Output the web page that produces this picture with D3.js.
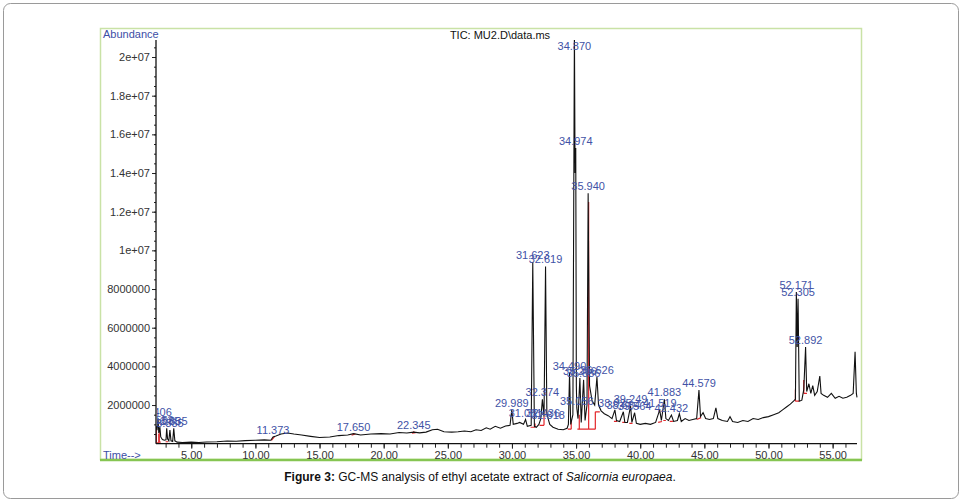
<!DOCTYPE html>
<html>
<head>
<meta charset="utf-8">
<script src="https://cdn.jsdelivr.net/npm/d3@7"></script>
<style>
  html, body { margin: 0; padding: 0; background: #fff; }
  svg { display: block; font-family: "Liberation Sans", Arial, sans-serif; }
</style>
</head>
<body>
<svg id="chart" width="962" height="502"></svg>
<script>
// ---- data (abundance in millions) ----
const traceTime = [
  2.25, 2.33, 2.406, 2.47, 2.553, 2.62, 2.75, 2.90, 3.03, 3.085, 3.15, 3.25, 3.335, 3.42, 3.55, 3.635, 3.72, 3.9,
  4.3, 5.0, 5.6, 6.2, 7.0, 7.8, 8.5, 9.2, 10.0, 10.7, 11.2, 11.373, 11.6, 12.0, 12.5, 13.0, 13.6, 14.3,
  15.0, 15.8, 16.5, 17.2, 17.65, 18.2, 19.0, 19.8, 20.5, 21.2, 21.8, 22.345, 22.8, 23.3, 23.8, 24.2,
  24.7, 25.3, 25.8, 26.3, 26.8, 27.2, 27.6, 28.0, 28.3, 28.7, 29.1, 29.5, 29.85, 29.989, 30.1, 30.4,
  30.6, 30.9, 31.061, 31.2, 31.5, 31.623, 31.75, 31.9, 32.1, 32.25, 32.374, 32.5, 32.619, 32.72, 32.818,
  32.95, 33.2, 33.6, 34.0, 34.3, 34.4, 34.49, 34.58, 34.75, 34.87, 34.92, 34.974, 35.02, 35.056, 35.15,
  35.296, 35.4, 35.586, 35.7, 35.85, 35.94, 36.05, 36.25, 36.45, 36.626, 36.75, 36.95, 37.2, 37.5, 37.8,
  38.025, 38.15, 38.4, 38.684, 38.8, 39.0, 39.249, 39.35, 39.564, 39.7, 40.0, 40.4, 40.8, 41.2, 41.519,
  41.65, 41.883, 42.0, 42.2, 42.432, 42.6, 42.9, 43.05, 43.2, 43.5, 43.8, 44.1, 44.4, 44.579, 44.7, 44.9,
  45.1, 45.4, 45.7, 45.9, 46.05, 46.4, 46.8, 47.0, 47.2, 47.6, 48.0, 48.4, 48.8, 49.2, 49.6, 50.0, 50.4,
  50.8, 51.1, 51.4, 51.7, 51.95, 52.1, 52.171, 52.24, 52.305, 52.4, 52.6, 52.75, 52.892, 52.98, 53.15,
  53.3, 53.45, 53.6, 53.8, 54.0, 54.1, 54.3, 54.6, 54.9, 55.2, 55.5, 55.8, 56.1, 56.4, 56.6, 56.75, 56.85, 56.9
];
const traceAbund = [
  0.9, 0.7, 1.3, 0.55, 0.86, 0.35, 0.22, 0.18, 0.2, 0.8, 0.25, 0.15, 0.7, 0.15, 0.12, 0.8, 0.15, 0.08,
  0.06, 0.08, 0.06, 0.09, 0.1, 0.14, 0.13, 0.16, 0.18, 0.2, 0.18, 0.35, 0.4, 0.5, 0.55, 0.5, 0.45, 0.38,
  0.32, 0.35, 0.42, 0.45, 0.52, 0.45, 0.5, 0.52, 0.5, 0.58, 0.55, 0.6, 0.56, 0.6, 0.72, 0.75,
  0.62, 0.6, 0.62, 0.66, 0.62, 0.72, 0.68, 0.82, 0.75, 0.9, 0.8, 0.92, 0.95, 1.75, 1.0, 1.05,
  1.1, 1.0, 1.25, 0.9, 0.95, 9.4, 0.9, 0.85, 1.0, 1.3, 2.3, 1.4, 9.17, 1.6, 1.3,
  1.0, 0.85, 0.75, 0.72, 0.8, 1.0, 3.65, 1.0, 1.5, 21.5, 14.0, 15.3, 3.0, 1.85, 1.3,
  3.4, 1.1, 3.3, 1.2, 2.0, 12.95, 3.0, 2.2, 2.0, 3.45, 2.0, 1.7, 1.55, 1.45, 1.3,
  1.75, 1.2, 1.15, 1.65, 1.1, 1.1, 1.95, 1.1, 1.6, 1.05, 1.0, 1.05, 1.0, 1.1, 1.75,
  1.2, 2.3, 1.3, 1.2, 1.48, 1.15, 1.2, 1.55, 1.15, 1.3, 1.2, 1.25, 1.3, 2.77, 1.4, 1.6,
  1.3, 1.25, 1.3, 1.85, 1.3, 1.2, 1.15, 1.4, 1.15, 1.1, 1.2, 1.15, 1.3, 1.25, 1.35, 1.4, 1.5,
  1.6, 1.75, 1.9, 2.05, 2.2, 2.3, 7.85, 5.0, 7.5, 2.2, 2.25, 2.8, 5.0, 2.7, 3.1,
  2.6, 3.0, 2.5, 2.7, 3.5, 2.6, 2.5, 2.4, 2.6, 2.35, 2.45, 2.35, 2.4, 2.5, 2.6, 4.75, 2.6, 2.4
];

const peakTime  = [2.406, 2.553, 3.085, 3.335, 3.635, 11.373, 17.650, 22.345, 29.989, 31.061, 31.623,
  32.374, 32.436, 32.619, 32.818, 34.490, 34.870, 34.974, 35.056, 35.296, 35.586, 35.940, 36.626,
  38.025, 38.684, 39.249, 39.564, 41.519, 41.883, 42.432, 44.579, 52.171, 52.305, 52.892];
const peakAbund = [1.3, 0.86, 0.8, 0.7, 0.8, 0.35, 0.52, 0.6, 1.75, 1.25, 9.4,
  2.3, 1.2, 9.17, 1.1, 3.65, 21.5, 15.3, 1.85, 3.4, 3.3, 12.95, 3.45,
  1.75, 1.65, 1.95, 1.6, 1.75, 2.3, 1.48, 2.77, 7.85, 7.5, 5.0];

// red integration baselines / drop lines: [t1, a1, t2, a2]
const redMarks = [
  [2.28, 0.05, 2.28, 0.9], [2.28, 0.05, 2.47, 0.05], [2.47, 0.05, 2.47, 0.5], [2.5, 0.08, 2.62, 0.08],
  [2.5, 0.08, 2.5, 0.7], [3.0, 0.1, 3.2, 0.1],
  [11.25, 0.17, 11.5, 0.38], [17.5, 0.44, 17.8, 0.5], [22.2, 0.55, 22.5, 0.57], [22.345, 0.55, 22.345, 0.64],
  [31.45, 0.85, 31.8, 0.85], [31.8, 0.85, 31.8, 1.05], [32.15, 0.95, 32.5, 0.95], [32.5, 0.95, 32.5, 1.4],
  [34.35, 0.75, 34.62, 0.75], [34.62, 0.75, 34.62, 1.2], [35.1, 0.75, 35.98, 0.75],
  [35.25, 0.75, 35.25, 1.5], [35.98, 0.75, 35.98, 12.5], [35.98, 0.75, 36.5, 0.75],
  [36.5, 0.75, 36.5, 1.65], [36.5, 1.65, 36.85, 1.65],
  [37.95, 1.15, 38.2, 1.15], [38.6, 1.1, 38.8, 1.1], [39.15, 1.05, 39.4, 1.05],
  [41.4, 1.1, 41.7, 1.15], [41.8, 1.2, 42.0, 1.2], [42.3, 1.15, 42.55, 1.15],
  [44.4, 1.25, 44.75, 1.35], [52.1, 2.2, 52.1, 2.8], [52.1, 2.2, 52.4, 2.2],
  [52.75, 2.6, 52.75, 3.3], [52.75, 2.6, 53.0, 2.6]
];

const xTickValues = [5, 10, 15, 20, 25, 30, 35, 40, 45, 50, 55];
const xMinorValues = d3.range(3, 57, 1);
const yTickValues = [2, 4, 6, 8, 10, 12, 14, 16, 18, 20];
const yMinorValues = d3.range(0.5, 20.8, 0.5);

// ---- layout ----
const svg = d3.select("#chart");
const L = 156, R = 857, T = 40, B = 443.7;
const x = d3.scaleLinear().domain([2.25, 56.9]).range([L, R]);
const y = d3.scaleLinear().domain([0, 20.88]).range([B, T]);

// outer rounded frame
svg.append("rect").attr("x", 3.5).attr("y", 3.5).attr("width", 955).attr("height", 495)
  .attr("rx", 7).attr("fill", "#fff").attr("stroke", "#9a9a9a").attr("stroke-width", 1);

// panel border
svg.append("rect").attr("x", 100.5).attr("y", 28.5).attr("width", 761).attr("height", 431)
  .attr("fill", "#fff").attr("stroke", "#c9e2a6").attr("stroke-width", 1.5);
svg.append("line").attr("x1", 100).attr("x2", 862).attr("y1", 460).attr("y2", 460)
  .attr("stroke", "#86c552").attr("stroke-width", 2.5);

const defs = svg.append("defs");
defs.append("clipPath").attr("id", "plotclip").append("rect")
  .attr("x", L).attr("y", T).attr("width", R - L + 1).attr("height", B - T + 1);
defs.append("clipPath").attr("id", "labelclip").append("rect")
  .attr("x", L + 1).attr("y", 29).attr("width", 860 - L).attr("height", B - 29);

// axes
const yAxisG = svg.append("g").attr("transform", `translate(${L},0)`);
yAxisG.call(d3.axisLeft(y).tickValues(yMinorValues).tickSize(2).tickFormat(""));
const yMaj = svg.append("g").attr("transform", `translate(${L},0)`)
  .call(d3.axisLeft(y).tickValues(yTickValues).tickSize(4).tickPadding(2)
    .tickFormat(v => v >= 10 ? (v / 10 === 1 ? "1e+07" : (v / 10) + "e+07") : String(v * 1e6)));
[yAxisG, yMaj].forEach(g => { g.select(".domain").remove(); g.selectAll("line").attr("stroke", "#222"); });
yMaj.selectAll("text").attr("font-size", 11).attr("fill", "#333")
  .attr("font-family", '"Liberation Sans", Arial, sans-serif');

const xMin = svg.append("g").attr("transform", `translate(0,${B})`)
  .call(d3.axisBottom(x).tickValues(xMinorValues).tickSize(4).tickFormat(""));
const xMaj = svg.append("g").attr("transform", `translate(0,${B})`)
  .call(d3.axisBottom(x).tickValues(xTickValues).tickSize(5).tickPadding(3).tickFormat(d3.format(".2f")));
[xMin, xMaj].forEach(g => { g.select(".domain").remove(); g.selectAll("line").attr("stroke", "#222"); });
xMaj.selectAll("text").attr("font-size", 11).attr("fill", "#333")
  .attr("font-family", '"Liberation Sans", Arial, sans-serif');

// red integration marks (under the trace)
svg.append("g").attr("clip-path", "url(#plotclip)").selectAll("line").data(redMarks).join("line")
  .attr("x1", d => x(d[0])).attr("y1", d => y(d[1]))
  .attr("x2", d => x(d[2])).attr("y2", d => y(d[3]))
  .attr("stroke", "#e3262b").attr("stroke-width", 1.2);

// trace
const line = d3.line().x(i => x(traceTime[i])).y(i => y(traceAbund[i]));
svg.append("path").attr("clip-path", "url(#plotclip)")
  .attr("d", line(d3.range(traceTime.length)))
  .attr("fill", "none").attr("stroke", "#111").attr("stroke-width", 1.1);

svg.append("line").attr("x1", L).attr("x2", L).attr("y1", T).attr("y2", B).attr("stroke", "#111").attr("stroke-width", 1.3);
svg.append("line").attr("x1", L).attr("x2", R).attr("y1", B).attr("y2", B).attr("stroke", "#111").attr("stroke-width", 1.3);

// peak labels
svg.append("g").attr("clip-path", "url(#labelclip)").selectAll("text")
  .data(d3.range(peakTime.length)).join("text")
  .attr("x", i => x(peakTime[i]))
  .attr("y", i => Math.max(y(peakAbund[i]), 53) - 3)
  .attr("text-anchor", "middle").attr("font-size", 11).attr("fill", "#4152a6")
  .text(i => d3.format(".3f")(peakTime[i]));

// texts
svg.append("text").attr("x", 103).attr("y", 38).attr("font-size", 11).attr("fill", "#3c4ea6").text("Abundance");
svg.append("text").attr("x", 103).attr("y", 459).attr("font-size", 11).attr("fill", "#3c4ea6").text("Time-->");
svg.append("text").attr("x", 500).attr("y", 39).attr("text-anchor", "middle").attr("font-size", 11).attr("fill", "#111")
  .text("TIC: MU2.D\\data.ms");

const cap = svg.append("text").attr("x", 480).attr("y", 481).attr("text-anchor", "middle")
  .attr("font-size", 12).attr("fill", "#111");
cap.append("tspan").attr("font-weight", "bold").text("Figure 3:");
cap.append("tspan").text(" GC-MS analysis of ethyl acetate extract of ");
cap.append("tspan").attr("font-style", "italic").text("Salicornia europaea");
cap.append("tspan").text(".");
</script>
</body>
</html>
